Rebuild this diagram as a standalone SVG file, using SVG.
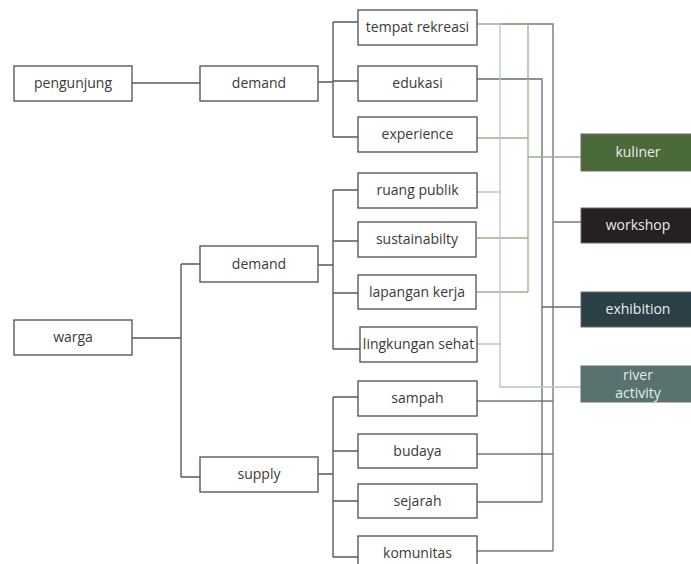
<svg xmlns="http://www.w3.org/2000/svg" width="691" height="564" viewBox="0 0 691 564">
<style>
.box{fill:#fff;stroke:#5a5a5a;stroke-width:1.4}
.t{font-family:"Open Sans","Liberation Sans",sans-serif;font-size:14px;fill:#3a3a3a;text-anchor:middle}
.tw{font-family:"Open Sans","Liberation Sans",sans-serif;font-size:14px;fill:#e8ece8;text-anchor:middle}
.tree{fill:none;stroke:#5a5a5a;stroke-width:1.4}
.c1{fill:none;stroke:#b4c6cc;stroke-width:1.3}
.c2{fill:none;stroke:#9fb08f;stroke-width:1.3}
.c3{fill:none;stroke:#5f6f77;stroke-width:1.3}
.c4{fill:none;stroke:#7a7a7a;stroke-width:1.4}
</style>
<rect width="691" height="564" fill="#fff"/>
<g id="connectors">
<path class="tree" d="M132 83H200"/>
<path class="tree" d="M318 82H333M333 22V137M333 22H358M333 81H358M333 137H358"/>
<path class="tree" d="M132 338H181M181 264V477M181 264H200M181 477H200"/>
<path class="tree" d="M318 265H333M333 190V349M333 190H358M333 241H358M333 293H358M333 349H360"/>
<path class="tree" d="M318 474H333M333 397V557M333 397H358M333 451H358M333 501H358M333 557H358"/>
<path class="c4" d="M477 24H553V551M553 222H581M477 401H553M477 454H553M477 551H553"/>
<path class="c3" d="M477 79H542V502M542 307H581M477 502H542"/>
<path class="c2" d="M477 24H528V292M477 138H528M528 157H581M477 238H528M477 292H528"/>
<path class="c1" d="M477 24H500V387H581M477 192H500M477 344H500"/>
</g>
<g id="pengunjung"><rect class="box" x="14" y="66" width="118" height="35"/><text class="t" x="73" y="88">pengunjung</text></g>
<g id="demand1"><rect class="box" x="200" y="66" width="118" height="35"/><text class="t" x="259" y="88">demand</text></g>
<g id="warga"><rect class="box" x="14" y="320" width="118" height="35"/><text class="t" x="73" y="342">warga</text></g>
<g id="demand2"><rect class="box" x="200" y="246" width="118" height="36"/><text class="t" x="259" y="269">demand</text></g>
<g id="supply"><rect class="box" x="200" y="457" width="118" height="35"/><text class="t" x="259" y="479">supply</text></g>
<g id="tempat-rekreasi"><rect class="box" x="358" y="10" width="119" height="35"/><text class="t" x="417.5" y="32">tempat rekreasi</text></g>
<g id="edukasi"><rect class="box" x="358" y="66" width="119" height="35"/><text class="t" x="417.5" y="88">edukasi</text></g>
<g id="experience"><rect class="box" x="358" y="117" width="119" height="35"/><text class="t" x="417.5" y="139">experience</text></g>
<g id="ruang-publik"><rect class="box" x="358" y="173" width="119" height="35"/><text class="t" x="417.5" y="195">ruang publik</text></g>
<g id="sustainabilty"><rect class="box" x="358" y="222" width="118" height="35"/><text class="t" x="417" y="244">sustainabilty</text></g>
<g id="lapangan-kerja"><rect class="box" x="358" y="275" width="118" height="34"/><text class="t" x="417" y="297">lapangan kerja</text></g>
<g id="lingkungan-sehat"><rect class="box" x="360" y="327" width="117" height="35"/><text class="t" x="418.5" y="349">lingkungan sehat</text></g>
<g id="sampah"><rect class="box" x="358" y="381" width="119" height="35"/><text class="t" x="417.5" y="403">sampah</text></g>
<g id="budaya"><rect class="box" x="358" y="434" width="119" height="34"/><text class="t" x="417.5" y="456">budaya</text></g>
<g id="sejarah"><rect class="box" x="358" y="484" width="119" height="34"/><text class="t" x="417.5" y="506">sejarah</text></g>
<g id="komunitas"><rect class="box" x="358" y="536" width="119" height="36"/><text class="t" x="417.5" y="558">komunitas</text></g>
<g id="kuliner"><rect x="581" y="134" width="112" height="37" fill="#4b6a3a" stroke="#6b6b6b" stroke-width="1"/><text class="tw" x="638" y="157">kuliner</text></g>
<g id="workshop"><rect x="581" y="208" width="112" height="35" fill="#272021" stroke="#6b6b6b" stroke-width="1"/><text class="tw" x="638" y="230">workshop</text></g>
<g id="exhibition"><rect x="581" y="292" width="112" height="35" fill="#2b3f46" stroke="#6b6b6b" stroke-width="1"/><text class="tw" x="638" y="314">exhibition</text></g>
<g id="river-activity"><rect x="581" y="366" width="112" height="36" fill="#587270" stroke="#6b6b6b" stroke-width="1"/><text class="tw" x="638" y="380">river</text><text class="tw" x="638" y="398">activity</text></g>
</svg>
